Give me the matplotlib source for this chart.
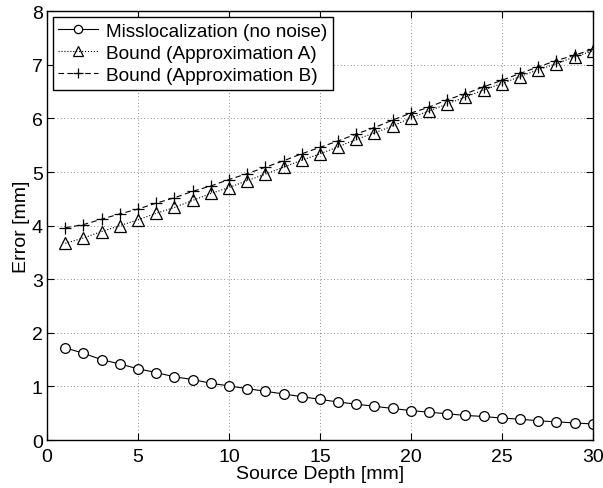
import numpy as np
import matplotlib
matplotlib.use("Agg")
import matplotlib.pyplot as plt

plt.rcParams['font.family'] = ['Liberation Sans', 'DejaVu Sans']

depth = np.arange(1, 31)
misloc = [1.72, 1.62, 1.50, 1.42, 1.33, 1.26, 1.18, 1.13, 1.06, 1.01,
          0.96, 0.91, 0.86, 0.81, 0.76, 0.71, 0.67, 0.63, 0.59, 0.55,
          0.52, 0.49, 0.46, 0.44, 0.41, 0.39, 0.36, 0.34, 0.32, 0.30]
bound_a = [3.67, 3.77, 3.89, 4.00, 4.11, 4.23, 4.34, 4.47, 4.60, 4.71,
           4.84, 4.96, 5.09, 5.22, 5.34, 5.47, 5.61, 5.73, 5.86, 6.01,
           6.14, 6.27, 6.40, 6.53, 6.65, 6.78, 6.91, 7.02, 7.15, 7.26]
bound_b = [3.96, 4.02, 4.12, 4.22, 4.31, 4.42, 4.52, 4.64, 4.74, 4.86,
           4.97, 5.09, 5.21, 5.34, 5.46, 5.58, 5.71, 5.83, 5.97, 6.10,
           6.21, 6.35, 6.46, 6.59, 6.71, 6.84, 6.96, 7.08, 7.18, 7.29]

fig = plt.figure(figsize=(6.03, 4.89), dpi=100)
ax = fig.add_axes([0.078, 0.098, 0.905, 0.877])

ax.plot(depth, misloc, color='k', linestyle='-', linewidth=0.8, marker='o',
        markersize=7, markerfacecolor='white', markeredgecolor='k',
        markeredgewidth=0.9, label='Misslocalization (no noise)')
ax.plot(depth, bound_a, color='k', linestyle=':', linewidth=0.8, marker='^',
        markersize=8, markerfacecolor='none', markeredgecolor='k',
        markeredgewidth=0.9, label='Bound (Approximation A)')
ax.plot(depth, bound_b, color='k', linestyle='--', linewidth=0.8, marker='+',
        markersize=8, markeredgewidth=0.9, dashes=(5, 3),
        label='Bound (Approximation B)')

ax.set_xlim(0, 30)
ax.set_ylim(0, 8)
ax.set_xticks(range(0, 31, 5))
ax.set_yticks(range(0, 9))
ax.grid(True, linestyle=(0, (1, 3)), color='k', linewidth=0.6, alpha=0.6)
ax.tick_params(direction='in', top=True, right=True, labelsize=14,
               length=5)
ax.tick_params(axis='x', pad=6)
ax.tick_params(axis='y', pad=3)
for s in ax.spines.values():
    s.set_linewidth(1.0)

ax.set_xlabel('Source Depth [mm]', fontsize=14, labelpad=0)
ax.set_ylabel('Error [mm]', fontsize=14, labelpad=1)

leg = ax.legend(loc='upper left', fontsize=13.7, frameon=True, fancybox=False,
                edgecolor='k', framealpha=1, borderaxespad=0.3,
                handlelength=2.1, handletextpad=0.4, labelspacing=0.25,
                borderpad=0.3, markerscale=0.85)
leg.get_frame().set_linewidth(1.0)

fig.savefig('out.png', dpi=100)
